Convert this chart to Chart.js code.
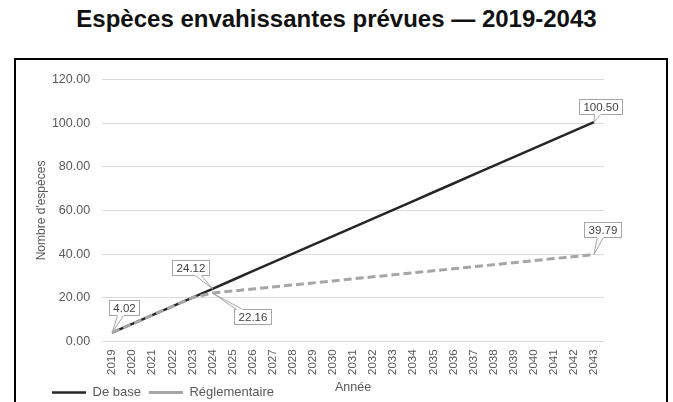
<!DOCTYPE html>
<html lang="fr">
<head>
<meta charset="UTF-8">
<title>Espèces envahissantes prévues — 2019-2043</title>
<style>
  body {
    margin: 0;
    width: 673px;
    height: 402px;
    overflow: hidden;
    position: relative;
    background: #fff;
    font-family: 'Liberation Sans', Arial, sans-serif;
  }
  .title {
    position: absolute;
    left: 0;
    top: 5px;
    width: 673px;
    text-align: center;
    font-weight: bold;
    font-size: 24px;
    line-height: 28px;
    color: #111;
  }
  .frame {
    position: absolute;
    left: 14px;
    top: 58px;
    width: 650px;
    height: 360px;
    border: 2px solid #000;
  }
  .chart-box {
    position: relative;
    width: 650px;
    height: 350px;
  }
</style>
<script src="https://cdn.jsdelivr.net/npm/chart.js"></script>
</head>
<body>
  <div class="title">Espèces envahissantes prévues — 2019-2043</div>
  <div class="frame">
    <div class="chart-box"><canvas id="chart"></canvas></div>
  </div>

<script>
  // values
  const years = ['2019', '2020', '2021', '2022', '2023', '2024', '2025', '2026', '2027', '2028',
    '2029', '2030', '2031', '2032', '2033', '2034', '2035', '2036', '2037', '2038',
    '2039', '2040', '2041', '2042', '2043'];
  const baseValues = [4.02, 8.04, 12.06, 16.08, 20.10, 24.12, 28.14, 32.16, 36.18, 40.20,
    44.22, 48.24, 52.26, 56.28, 60.30, 64.32, 68.34, 72.36, 76.38, 80.40,
    84.42, 88.44, 92.46, 96.48, 100.50];
  const regValues = [4.02, 8.04, 12.06, 16.08, 20.10, 22.16, 23.09, 24.02, 24.94, 25.87,
    26.80, 27.73, 28.66, 29.58, 30.51, 31.44, 32.37, 33.30, 34.22, 35.15,
    36.08, 37.01, 37.94, 38.86, 39.79];
  const yTicks = [0, 20, 40, 60, 80, 100, 120];

  // which points get a callout box, and where the box sits relative to the point (px)
  const callouts = [
    { dataset: 0, index: 0, dx: 12, dy: -25 },
    { dataset: 0, index: 5, dx: -22, dy: -21 },
    { dataset: 1, index: 5, dx: 40, dy: 23 },
    { dataset: 0, index: 24, dx: 7, dy: -16 },
    { dataset: 1, index: 24, dx: 9, dy: -25 }
  ];

  Chart.defaults.font.family = "'Liberation Sans', Arial, sans-serif";

  const calloutPlugin = {
    id: 'callouts',
    afterLayout(chart) {
      // legend sits a bit further right than Chart.js puts it
      chart.legend.left += 16;
    },
    afterDatasetsDraw(chart) {
      const ctx = chart.ctx;
      const xs = chart.scales.x, ys = chart.scales.y;
      ctx.save();
      ctx.font = '11.5px "Liberation Sans", Arial, sans-serif';
      ctx.textAlign = 'center';
      ctx.textBaseline = 'middle';
      callouts.forEach(c => {
        const value = chart.data.datasets[c.dataset].data[c.index];
        const px = xs.getPixelForValue(c.index);
        const py = ys.getPixelForValue(value);
        const text = value.toFixed(2);
        const w = Math.round(ctx.measureText(text).width + 8);
        const h = 15;
        const cx = px + c.dx, cy = py + c.dy;
        const left = Math.round(cx - w / 2) + 0.5, top = Math.round(cy - h / 2) + 0.5;

        // where the pointer leaves the box
        const vx = px - cx, vy = py - cy;
        const t = Math.min(Math.abs((w / 2) / vx), Math.abs((h / 2) / vy));
        let ex = cx + vx * t, ey = cy + vy * t;
        const half = 3;
        let b1, b2;
        if (Math.abs((w / 2) / vx) < Math.abs((h / 2) / vy)) {
          ex = vx > 0 ? left + w : left;
          ey = Math.max(top + half, Math.min(top + h - half, ey));
          b1 = [ex, ey - half]; b2 = [ex, ey + half];
        } else {
          ey = vy > 0 ? top + h : top;
          ex = Math.max(left + half, Math.min(left + w - half, ex));
          b1 = [ex - half, ey]; b2 = [ex + half, ey];
        }

        ctx.fillStyle = '#fff';
        ctx.strokeStyle = '#a6a6a6';
        ctx.lineWidth = 1;
        ctx.fillRect(left, top, w, h);
        ctx.strokeRect(left, top, w, h);

        ctx.beginPath();
        ctx.moveTo(b1[0], b1[1]);
        ctx.lineTo(px, py);
        ctx.lineTo(b2[0], b2[1]);
        ctx.closePath();
        ctx.fill();
        ctx.beginPath();
        ctx.moveTo(b1[0], b1[1]);
        ctx.lineTo(px, py);
        ctx.lineTo(b2[0], b2[1]);
        ctx.stroke();
        // open the box border where the pointer joins
        ctx.strokeStyle = '#fff';
        ctx.beginPath();
        ctx.moveTo(b1[0], b1[1]);
        ctx.lineTo(b2[0], b2[1]);
        ctx.stroke();

        ctx.fillStyle = '#404040';
        ctx.fillText(text, left + w / 2, top + h / 2 + 0.5);
      });
      ctx.restore();
    }
  };

  new Chart(document.getElementById('chart'), {
    type: 'line',
    data: {
      labels: years,
      datasets: [
        {
          label: 'De base',
          data: baseValues,
          borderColor: '#262626',
          backgroundColor: '#262626',
          borderWidth: 2.5,
          pointRadius: 0,
          tension: 0,
          order: 2
        },
        {
          label: 'Réglementaire',
          data: regValues,
          borderColor: '#a6a6a6',
          backgroundColor: '#a6a6a6',
          borderWidth: 3,
          borderDash: [8, 4],
          pointRadius: 0,
          tension: 0,
          order: 1
        }
      ]
    },
    options: {
      responsive: true,
      maintainAspectRatio: false,
      animation: false,
      layout: { padding: { left: 12, right: 62, top: 6.5, bottom: 1 } },
      scales: {
        x: {
          offset: true,
          grid: { display: false, drawTicks: false },
          border: { display: false },
          ticks: {
            minRotation: 90,
            maxRotation: 90,
            autoSkip: false,
            padding: 8,
            color: '#595959',
            font: { size: 11.5 }
          },
          title: {
            display: true,
            text: 'Année',
            color: '#595959',
            font: { size: 12.5 },
            padding: { top: -3, bottom: -17 }
          }
        },
        y: {
          min: 0,
          max: 120,
          afterBuildTicks: axis => { axis.ticks = yTicks.map(v => ({ value: v })); },
          grid: { color: '#d9d9d9', drawTicks: false },
          border: { display: false },
          ticks: {
            padding: 12,
            color: '#595959',
            font: { size: 12.5 },
            callback: v => Number(v).toFixed(2)
          },
          title: {
            display: true,
            text: "Nombre d'espèces",
            color: '#595959',
            font: { size: 12 },
            padding: { top: 6.5, bottom: -9 }
          }
        }
      },
      plugins: {
        legend: {
          position: 'bottom',
          align: 'start',
          labels: {
            usePointStyle: true,
            pointStyle: 'line',
            pointStyleWidth: 34,
            padding: 8,
            color: '#595959',
            font: { size: 13 },
            sort: (a, b) => a.datasetIndex - b.datasetIndex
          }
        },
        tooltip: { enabled: false }
      }
    },
    plugins: [calloutPlugin]
  });
</script>
</body>
</html>
